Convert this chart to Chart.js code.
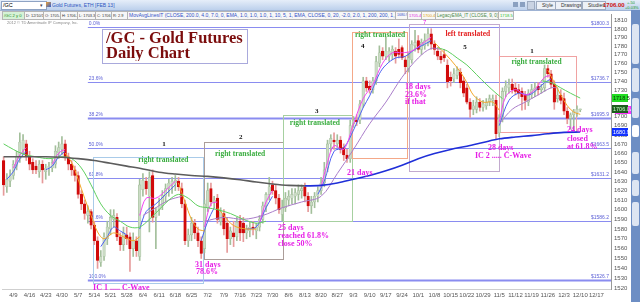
<!DOCTYPE html>
<html>
<head>
<meta charset="utf-8">
<script src="https://cdn.jsdelivr.net/npm/chart.js@4.4.0/dist/chart.umd.min.js"></script>
<style>
  body { margin: 0; width: 640px; height: 302px; overflow: hidden; position: relative; background: #fff; font-family: "Liberation Sans", Arial, sans-serif; }
  #chart { position: absolute; left: 0; top: 0; }
  .abs { position: absolute; white-space: nowrap; overflow: hidden; }
  .row1 { left: 0; top: 0; width: 640px; height: 10px; background: linear-gradient(#e6eef9, #bcd0ec); border-bottom: 1px solid #9fb3d4; }
  .row2 { left: 0; top: 11px; width: 513px; height: 9px; background: #ededed; }
  .cell { top: 11px; height: 7px; line-height: 7px; font-size: 5px; border: 1px solid #b5b5b5; background: #f7f7f7; color: #333; padding-left: 1px; }
  .btn { top: 1px; height: 7px; line-height: 7px; font-size: 5px; border: 1px solid #9eabc0; background: #edf1f7; color: #333; padding-left: 5px; }
  .tab { left: 632px; width: 7px; background: #dde5f2; border-radius: 2px; }
  #title { left: 102px; top: 29px; width: 144px; height: 33px; border: 1px solid #a9a9dc; background: #fff; }
  .tl { font-family: "Liberation Serif", serif; font-weight: bold; font-size: 16.5px; line-height: 16px; color: #7b0c0c; }
</style>
</head>
<body>
<canvas id="chart" width="640" height="302"></canvas>

<div class="abs row1"></div>
<div class="abs" style="left:1px;top:1px;width:43px;height:7px;line-height:7px;font-size:5.5px;background:#fff;border:1px solid #8ea3c4;padding-left:1px;">/GC</div>
<div class="abs" style="left:40px;top:2px;font-size:5px;color:#445;">&#9662;</div>
<div class="abs" style="left:46px;top:2px;width:5px;height:5px;background:linear-gradient(135deg,#f0a030,#3060d0);"></div>
<div class="abs" style="left:52px;top:1px;font-size:5px;line-height:8px;color:#2b55c0;">Gold Futures, ETH [FEB 13]</div>
<div class="abs" style="left:513px;top:2px;width:5px;height:5px;background:#8aa0c0;"></div>
<div class="abs" style="left:520px;top:2px;width:5px;height:5px;background:#8aa0c0;"></div>
<div class="abs" style="left:527px;top:1px;width:6px;height:7px;background:#c9d3e3;border:1px solid #9eabc0;"></div>
<div class="abs btn" style="left:536px;width:13px;">Style</div>
<div class="abs btn" style="left:555px;width:20px;">Drawings</div>
<div class="abs btn" style="left:582px;width:17px;">Studies</div>
<div class="abs" style="left:603px;top:1px;font-size:6px;line-height:8px;font-weight:bold;color:#d01010;">1706.00</div>
<div class="abs" style="left:627px;top:0px;font-size:4px;line-height:5px;color:#1a9a1a;">+.50</div>
<div class="abs" style="left:625px;top:5px;font-size:4px;line-height:5px;color:#1a9a1a;">+0.03%</div>

<div class="abs row2"></div>
<div id="cells"></div>
<div class="abs" style="left:7px;top:20px;font-size:4px;line-height:5px;color:#8a8a8a;">2012 &copy; TD Ameritrade IP Company, Inc.</div>

<div class="abs" style="left:631px;top:10px;width:9px;height:292px;background:#6d8ec4;"></div>
<div class="abs tab" style="top:24px;height:40px;"></div>
<div class="abs tab" style="top:68px;height:24px;"></div>
<div class="abs tab" style="top:98px;height:20px;"></div>
<div class="abs tab" style="top:125px;height:12px;background:#fff;"></div>
<div class="abs tab" style="top:152px;height:22px;"></div>
<div class="abs tab" style="top:180px;height:16px;"></div>
<div class="abs tab" style="top:202px;height:24px;"></div>

<div id="title" class="abs"></div>
<div class="abs tl" style="left:106px;top:30px;">/GC - Gold Futures</div>
<div class="abs tl" style="left:106px;top:45px;">Daily Chart</div>

<script>
/*=================================
      data
=================================*/
const weekLabels = ['4/9','4/16','4/23','4/30','5/7','5/14','5/21','5/28','6/4','6/11','6/18','6/25',
  '7/2','7/9','7/16','7/23','7/30','8/6','8/13','8/20','8/27','9/3','9/10','9/17','9/24','10/1',
  '10/8','10/15','10/22','10/29','11/5','11/12','11/19','11/26','12/3','12/10','12/17'];

const priceTicks = [1520,1530,1540,1550,1560,1570,1580,1590,1600,1610,1620,1630,1640,1650,1660,
  1670,1680,1690,1700,1710,1720,1730,1740,1750,1760,1770,1780,1790,1800,1810];

// daily candles, first bar is 4/4/12
const opens = [
  1650,1622,1628,1634,1644,1652,1662,1668,1654,1648, 1644,1638,1646,1638,1642,1642,1646,1658,1662,1668,
  1654,1646,1640,1634,1614,1604,1592,1596,1582,1566, 1544,1550,1568,1578,1588,1590,1570,1562,1572,1570,
  1558,1566,1550,1619,1628,1612,1634,1590,1598,1602, 1612,1620,1624,1626,1628,1620,1604,1566,1572,1584,
  1574,1566,1558,1600,1620,1606,1610,1586,1594,1584, 1568,1574,1570,1586,1584,1574,1576,1580,1576,1580,
  1588,1602,1614,1624,1618,1610,1593,1600,1608,1610, 1612,1614,1618,1622,1612,1602,1606,1612,1618,1626,
  1642,1668,1672,1668,1672,1664,1656,1652,1690,1694, 1694,1712,1738,1732,1728,1738,1758,1772,1766,1766,
  1768,1772,1774,1776,1762,1752,1762,1778,1784,1774, 1778,1782,1792,1780,1772,1766,1768,1756,1742,1740,
  1744,1748,1738,1730,1714,1706,1706,1714,1708,1710, 1714,1716,1716,1680,1696,1726,1730,1734,1730,1728,
  1726,1722,1714,1722,1726,1732,1728,1730,1752,1746, 1734,1718,1722,1718,1704,1696,1700,1702,1705.4];
const highs = [
  1654,1636,1640,1650,1660,1680,1678,1672,1660,1652, 1650,1650,1650,1646,1648,1652,1666,1670,1676,1672,
  1658,1650,1644,1638,1618,1608,1602,1598,1586,1570, 1556,1574,1586,1598,1598,1594,1574,1580,1580,1574,
  1574,1570,1630,1636,1632,1638,1640,1600,1610,1618, 1625,1630,1632,1634,1632,1626,1608,1578,1590,1588,
  1580,1570,1608,1626,1626,1612,1614,1600,1598,1590, 1580,1586,1590,1592,1590,1582,1586,1586,1584,1592,
  1606,1616,1632,1628,1624,1614,1608,1616,1618,1620, 1620,1624,1624,1626,1616,1612,1616,1622,1632,1648,
  1672,1678,1680,1678,1676,1668,1662,1694,1698,1700, 1716,1742,1742,1738,1742,1766,1778,1776,1788,1776,
  1778,1776,1786,1778,1766,1770,1784,1796,1790,1786, 1792,1798,1798,1784,1776,1772,1774,1762,1748,1752,
  1754,1752,1742,1734,1718,1716,1720,1718,1716,1718, 1722,1722,1722,1700,1730,1738,1740,1740,1736,1734,
  1730,1726,1728,1734,1736,1736,1734,1756,1756,1750, 1738,1730,1728,1724,1708,1702,1706,1710,1706.2];
const lows = [
  1613,1616,1622,1630,1640,1648,1656,1650,1640,1636, 1636,1632,1626,1630,1634,1638,1642,1652,1656,1650,
  1640,1634,1628,1610,1598,1588,1584,1578,1562,1538, 1540,1546,1562,1572,1580,1566,1556,1556,1562,1535,
  1550,1550,1546,1612,1614,1575,1585,1558,1592,1598, 1606,1612,1615,1618,1618,1600,1562,1560,1566,1568,
  1560,1548,1554,1596,1602,1600,1584,1582,1572,1554, 1562,1560,1566,1566,1565,1568,1570,1572,1568,1576,
  1584,1596,1608,1614,1604,1594,1586,1596,1602,1604, 1604,1608,1610,1606,1596,1594,1600,1606,1614,1622,
  1638,1660,1662,1664,1658,1650,1648,1648,1686,1688, 1690,1708,1726,1724,1724,1734,1754,1762,1762,1760,
  1762,1758,1764,1762,1746,1748,1758,1772,1770,1768, 1774,1778,1774,1768,1762,1758,1760,1730,1732,1736,
  1740,1730,1720,1712,1697,1700,1702,1704,1704,1706, 1710,1710,1673,1676,1692,1720,1724,1724,1722,1718,
  1705,1706,1710,1718,1720,1722,1724,1726,1742,1730, 1706,1714,1712,1700,1690,1684,1682,1698,1703.3];
const closes = [
  1624,1630,1634,1646,1654,1670,1672,1654,1646,1640, 1640,1646,1640,1642,1644,1648,1660,1664,1668,1654,
  1646,1640,1634,1614,1604,1594,1596,1582,1566,1546, 1550,1570,1580,1590,1592,1570,1562,1574,1568,1558,
  1566,1556,1624,1629,1620,1632,1590,1596,1602,1613, 1620,1626,1628,1629,1622,1604,1566,1572,1584,1574,
  1566,1553,1604,1618,1606,1608,1588,1596,1578,1568, 1576,1570,1585,1574,1574,1578,1580,1578,1580,1588,
  1602,1614,1622,1618,1610,1598,1600,1610,1612,1614, 1616,1618,1620,1612,1602,1606,1612,1618,1626,1640,
  1668,1674,1670,1672,1662,1656,1652,1688,1694,1692, 1712,1738,1730,1728,1738,1760,1770,1766,1772,1772,
  1774,1766,1768,1764,1754,1764,1780,1782,1774,1782, 1784,1792,1780,1774,1766,1762,1764,1737,1738,1746,
  1750,1736,1724,1714,1706,1710,1714,1708,1712,1714, 1718,1718,1679,1696,1726,1732,1734,1728,1726,1724,
  1720,1716,1724,1728,1730,1728,1730,1752,1746,1734, 1714,1722,1716,1704,1696,1700,1704,1706,1706];

// 200 day average, [bar, price]
const ma200 = [[0,1654],[3,1654],[8,1654],[13,1654],[18,1653.5],[23,1652],[28,1650],[33,1647],[38,1644],
  [43,1641],[48,1637.5],[53,1635.5],[58,1634],[63,1633],[68,1631.5],[73,1629.5],[78,1627],[83,1625],
  [88,1623.5],[93,1623],[98,1623.5],[103,1626],[108,1630],[113,1634],[118,1639],[123,1645],[128,1652],
  [133,1657.5],[138,1662],[143,1665.5],[148,1669.5],[153,1673.5],[158,1675.5],[163,1677],[168,1679],
  [173,1680.5],[178,1680.9]];

// short averages, only the stretches the study paints
const emaGreen = [
  [[0,1668],[3,1662],[6,1657],[10,1654],[14,1652],[18,1654],[21,1652],[24,1642],[27,1624],[30,1604],[33,1592],
   [36,1586],[39,1580],[42,1580],[45,1588],[48,1598],[51,1608],[54,1614],[57,1610],[60,1602],[63,1600],
   [66,1598],[70,1594],[74,1588],[78,1584],[81,1586]],
  [[134,1776],[137,1772],[140,1764],[143,1756],[146,1745],[149,1734],[152,1724],[154,1718]],
  [[166,1738],[169,1736],[172,1730],[175,1724],[178,1718.5]]];
const emaOrange = [
  [[19,1658],[21,1648],[23,1630],[25,1610],[27,1592],[29,1575],[31,1568],[34,1574],[37,1570],[40,1566],[42,1570]],
  [[54,1626],[56,1606],[58,1588],[60,1578],[62,1576]],
  [[66,1600],[68,1592],[70,1584],[72,1580],[75,1578],[78,1578]],
  [[133,1782],[135,1774],[138,1762],[141,1748],[143,1736],[145,1722],[148,1714],[151,1714],[153,1705]],
  [[168,1750],[170,1736],[172,1722],[174,1710],[176,1703],[178,1700.4]]];
const emaBlue = [
  [[1,1630],[3,1638],[5,1652],[7,1660]],
  [[13,1640],[15,1644],[17,1654],[19,1660]],
  [[30,1560],[32,1570],[34,1580],[36,1576],[38,1572]],
  [[42,1578],[44,1596],[47,1604],[50,1614],[53,1624]],
  [[61,1566],[63,1586],[65,1600]],
  [[75,1578],[78,1580],[81,1600],[83,1612]],
  [[97,1614],[99,1628],[102,1660],[105,1664],[108,1683],[111,1708],[113,1721],[116,1746],[118,1756],
   [121,1764],[124,1766],[127,1774],[130,1780],[132,1784]],
  [[153,1688],[156,1716],[159,1724],[162,1722],[164,1726],[167,1736],[169,1740]]];
const emaMagenta = [
  [[3,1642],[5,1656],[7,1664]],
  [[15,1646],[17,1658],[19,1662]],
  [[42,1592],[44,1610],[47,1610],[50,1618],[53,1628]],
  [[62,1580],[64,1604],[66,1606]],
  [[79,1584],[81,1606],[83,1618]],
  [[98,1622],[100,1648],[102,1666],[105,1662],[108,1690],[111,1718],[114,1734],[117,1758],[120,1770],
   [123,1770],[126,1772],[129,1780],[132,1788]],
  [[153,1692],[155,1720],[158,1728],[161,1722],[164,1728],[167,1742],[169,1744]]];
const emaPurple = [
  [[43,1592],[47,1600],[51,1608],[55,1612]],
  [[62,1586],[68,1590],[74,1588],[80,1592],[86,1600],[92,1606],[98,1612],[103,1636],[108,1662],[113,1690],
   [118,1714],[123,1742],[128,1764],[132,1775],[135,1774]],
  [[153,1690],[157,1706],[161,1714],[165,1722],[169,1730],[171,1730]]];

// fibonacci retracement from the May low to the October high
const fibLevels = [1800.3, 1736.7, 1695.9, 1663.5, 1631.2, 1586.2, 1526.7];
const fibNames = ['0.0%', '23.6%', '38.2%', '50.0%', '61.8%', '78.6%', '100.0%'];

/*=================================
      drawings on the chart
=================================*/
const fibStart = 26;
const fibWidth = [1.2, 1.2, 2, 1.2, 1.2, 1.2, 2];

// cycle boxes: bar from / to, price low / high
const cycleBoxes = [
  { x0: 27.6, x1: 61.5, lo: 1523.4, hi: 1653.8, color: '#a9cbe9' },
  { x0: 61.8, x1: 86.2, lo: 1547.4, hi: 1670.0, color: '#ab9d99' },
  { x0: 86.2, x1: 107.5, lo: 1586.2, hi: 1699.6, color: '#a6d0a0' },
  { x0: 107.5, x1: 124.5, lo: 1652.7, hi: 1794.1, color: '#f4a888' },
  { x0: 125.1, x1: 152.9, lo: 1638.7, hi: 1803.5, color: '#c2aace' },
  { x0: 152.9, x1: 176.7, lo: 1680.9, hi: 1766.3, color: '#f0a2a2' },
];

const GREEN = '#3aad3f', RED = '#e42222', MAG = '#e61ee6';
const fNum = 'bold 7px "Liberation Serif"';
const fTr = 'bold 7.5px "Liberation Serif"';
const fNote = 'bold 8px "Liberation Serif"';
const notes = [
  { t: '1', x: 49.5, y: 1667.8, c: '#111', f: fNum, a: 'center' },
  { t: 'right translated', x: 49.3, y: 1650.5, c: GREEN, f: fTr, a: 'center' },
  { t: 'IC 1 ..... C-Wave', x: 27.6, y: 1518.8, c: MAG, f: fNote, a: 'left' },
  { t: '2', x: 73.2, y: 1675.8, c: '#111', f: fNum, a: 'center' },
  { t: 'right translated', x: 73, y: 1657, c: GREEN, f: fTr, a: 'center' },
  { t: '3', x: 96.7, y: 1704.4, c: '#111', f: fNum, a: 'center' },
  { t: 'right translated', x: 96.1, y: 1690.8, c: GREEN, f: fTr, a: 'center' },
  { t: '4', x: 110.9, y: 1777.8, c: '#111', f: fNum, a: 'center' },
  { t: 'right translated', x: 116.2, y: 1790, c: GREEN, f: fTr, a: 'center' },
  { t: '5', x: 142.4, y: 1777, c: '#111', f: fNum, a: 'center' },
  { t: 'left translated', x: 143.3, y: 1791.2, c: RED, f: fTr, a: 'center' },
  { t: '1', x: 163.1, y: 1772.4, c: '#111', f: fNum, a: 'center' },
  { t: 'right translated', x: 164.5, y: 1759.4, c: GREEN, f: fTr, a: 'center' },
  { t: '31 days', x: 59.1, y: 1541.9, c: MAG, f: fNote, a: 'left' },
  { t: '78.6%', x: 59.4, y: 1534.4, c: MAG, f: fNote, a: 'left' },
  { t: '25 days', x: 84.7, y: 1579, c: MAG, f: fNote, a: 'left' },
  { t: 'reached 61.8%', x: 84.7, y: 1570.8, c: MAG, f: fNote, a: 'left' },
  { t: 'close 50%', x: 84.7, y: 1562.6, c: MAG, f: fNote, a: 'left' },
  { t: '21 days', x: 106, y: 1636.6, c: MAG, f: fNote, a: 'left' },
  { t: '18 days', x: 123.9, y: 1730.9, c: MAG, f: fNote, a: 'left' },
  { t: '23.6%', x: 123.9, y: 1722.5, c: MAG, f: fNote, a: 'left' },
  { t: 'if that', x: 123.9, y: 1714.1, c: MAG, f: fNote, a: 'left' },
  { t: '28 days', x: 149.5, y: 1663.5, c: MAG, f: fNote, a: 'left' },
  { t: 'IC 2 ..... C-Wave', x: 145.5, y: 1655.4, c: MAG, f: fNote, a: 'left' },
  { t: '24 days', x: 173.9, y: 1683.1, c: MAG, f: fNote, a: 'left' },
  { t: 'closed', x: 173.9, y: 1673.8, c: MAG, f: fNote, a: 'left' },
  { t: 'at 61.8%', x: 173.9, y: 1664.6, c: MAG, f: fNote, a: 'left' },
  { t: '7', x: 130, y: 1805, c: MAG, f: '6px "Liberation Sans"', a: 'center' },
];

// price flags on the axis
const flags = [
  { v: 1718.5, text: '1718.5', bg: '#22dd22', fg: '#063806', dx: 0 },
  { v: 1705.4, text: '1705.4', bg: '#ff33ff', fg: '#fff', dx: 3 },
  { v: 1706.0, text: '1706.0', bg: '#1d5e1d', fg: '#c8ffc8', dx: 0 },
  { v: 1680.9, text: '1680.9', bg: '#1232ff', fg: '#fff', dx: 0 },
];

/*=================================
      header cells
=================================*/
const headerCells = [
  ['/GC 2 y 0', 2, 20, 4.2, '#1f8a1f', '#d6f2d6'],
  ['D: 12/10/12', 24, 17, 3.9, '#333'],
  ['O: 1705.4', 43, 15, 3.9, '#333'],
  ['H: 1706.2', 60, 15, 3.9, '#333'],
  ['L: 1703.3', 77, 16, 3.9, '#333'],
  ['C: 1706', 95, 14, 3.9, '#333'],
  ['R: 2.9', 111, 14, 3.9, '#333'],
  ['MovAvgLinesIT (CLOSE, 200.0, 4.0, 7.0, 0, EMA, 1.0, 1.0, 1.0, 1, 10, 5, 1, EMA, CLOSE, 0, 20, -2.0, 2.0, 1, 200, 200, 1, 1)', 127, 266, 5, '#3050c8'],
  ['1680.9', 395, 10, 3.6, '#3050c8'],
  ['1705.4', 407, 12, 4, '#e020e0'],
  ['1700.4', 421, 12, 4, '#e0a000'],
  ['LegacyEMA_IT (CLOSE, 9, 0)', 435, 61, 4.6, '#4a8a4a'],
  ['1718.5', 498, 13, 4.2, '#2fbf2f'],
];
const cellBox = document.getElementById('cells');
headerCells.forEach((h) => {
  const d = document.createElement('div');
  d.className = 'abs cell';
  d.style.left = h[1] + 'px';
  d.style.width = h[2] + 'px';
  d.style.fontSize = h[3] + 'px';
  d.style.color = h[4];
  if (h[5]) d.style.background = h[5];
  d.textContent = h[0];
  cellBox.appendChild(d);
});

/*=================================
      datasets
=================================*/
const bars = closes.map((c, i) => i);
const isUp = closes.map((c, i) => c >= opens[i]);

function toPoints(segments) {
  const out = [];
  segments.forEach((s, k) => {
    if (k) {
      const prev = segments[k - 1];
      out.push({ x: (prev[prev.length - 1][0] + s[0][0]) / 2, y: null });
    }
    s.forEach((p) => out.push({ x: p[0], y: p[1] }));
  });
  return out;
}

function emaLine(segments, color) {
  return {
    type: 'line',
    data: toPoints(segments),
    borderColor: color,
    borderWidth: 1,
    pointRadius: 0,
    tension: 0.35,
    spanGaps: false,
    order: 1,
  };
}

const drawings = {
  id: 'drawings',
  beforeDatasetsDraw(chart) {
    const { ctx, chartArea: a, scales: { x, y } } = chart;
    ctx.save();
    ctx.font = '5px "Liberation Sans"';
    ctx.textBaseline = 'bottom';
    fibLevels.forEach((lv, i) => {
      const py = Math.round(y.getPixelForValue(lv)) + 0.5;
      const px0 = x.getPixelForValue(fibStart);
      ctx.strokeStyle = '#8a8cf0';
      ctx.lineWidth = fibWidth[i];
      ctx.beginPath();
      ctx.moveTo(px0, py);
      ctx.lineTo(a.right, py);
      ctx.stroke();
      ctx.fillStyle = '#5b5fd6';
      ctx.textAlign = 'left';
      ctx.fillText(fibNames[i], px0 + 1, py - 1.5);
      ctx.textAlign = 'right';
      ctx.fillText('$' + lv.toFixed(1), a.right - 2, py - 1.5);
    });
    cycleBoxes.forEach((b) => {
      const l = Math.round(x.getPixelForValue(b.x0)) + 0.5;
      const r = Math.round(x.getPixelForValue(b.x1)) + 0.5;
      const t = Math.round(y.getPixelForValue(b.hi)) + 0.5;
      const bt = Math.round(y.getPixelForValue(b.lo)) + 0.5;
      ctx.strokeStyle = b.color;
      ctx.lineWidth = 1;
      ctx.strokeRect(l, t, r - l, bt - t);
    });
    ctx.restore();
  },
  afterDatasetsDraw(chart) {
    const { ctx, scales: { x, y } } = chart;
    ctx.save();
    ctx.textBaseline = 'middle';
    notes.forEach((n) => {
      ctx.font = n.f;
      ctx.fillStyle = n.c;
      ctx.textAlign = n.a;
      ctx.fillText(n.t, x.getPixelForValue(n.x), y.getPixelForValue(n.y));
    });
    ctx.restore();
  },
  afterDraw(chart) {
    const { ctx, chartArea: a, scales: { y } } = chart;
    ctx.save();
    ctx.font = '5.5px "Liberation Sans"';
    ctx.textBaseline = 'middle';
    ctx.textAlign = 'left';
    flags.forEach((f) => {
      const py = Math.round(y.getPixelForValue(f.v));
      ctx.fillStyle = f.bg;
      ctx.fillRect(a.right + 1 + f.dx, py - 4, 16, 8);
      ctx.fillStyle = f.fg;
      ctx.fillText(f.text, a.right + 2 + f.dx, py + 0.5);
    });
    ctx.restore();
  },
};

new Chart('chart', {
  type: 'bar',
  data: {
    datasets: [
      {
        type: 'bar',
        data: bars.map((i) => ({ x: i, y: [lows[i], highs[i]] })),
        backgroundColor: bars.map((i) => (isUp[i] ? '#a3bf9b' : '#e69a9a')),
        barThickness: 1,
        grouped: false,
        order: 4,
      },
      {
        type: 'bar',
        data: bars.map((i) => ({ x: i, y: [Math.min(opens[i], closes[i]), Math.max(opens[i], closes[i])] })),
        backgroundColor: bars.map((i) => (isUp[i] ? '#cbdbc5' : '#d10a0a')),
        borderColor: bars.map((i) => (isUp[i] ? '#a7c09f' : '#d10a0a')),
        borderWidth: 0.6,
        borderSkipped: false,
        barThickness: 2.6,
        minBarLength: 1,
        grouped: false,
        order: 3,
      },
      emaLine(emaGreen, '#5fcf5f'),
      emaLine(emaOrange, '#f3a628'),
      emaLine(emaPurple, '#a97cc9'),
      emaLine(emaMagenta, '#f245f2'),
      emaLine(emaBlue, '#4d62f2'),
      {
        type: 'line',
        data: ma200.map((p) => ({ x: p[0], y: p[1] })),
        borderColor: '#5c5c5c',
        segment: {
          borderColor: (c) => (c.p1.parsed.y > c.p0.parsed.y ? '#1f2fd8' : '#5c5c5c'),
        },
        borderWidth: 1.6,
        pointRadius: 0,
        cubicInterpolationMode: 'monotone',
        order: 0,
      },
    ],
  },
  options: {
    responsive: false,
    devicePixelRatio: 1,
    animation: false,
    events: [],
    layout: { padding: { left: 2, top: 14, right: 0, bottom: 0 } },
    plugins: { legend: { display: false }, tooltip: { enabled: false } },
    scales: {
      x: {
        type: 'linear',
        min: -0.5,
        max: 187.5,
        offset: false,
        bounds: 'data',
        afterBuildTicks: (s) => {
          s.ticks = weekLabels.map((l, k) => ({ value: 3 + 5 * k }));
        },
        afterFit: (s) => {
          s.height = 13;
        },
        grid: { display: false, drawTicks: false },
        border: { display: true, color: '#cfcfcf' },
        ticks: {
          autoSkip: false,
          maxRotation: 0,
          padding: 3,
          color: '#555',
          font: { size: 6, family: 'Liberation Sans' },
          callback: (v, i) => weekLabels[i],
        },
      },
      y: {
        type: 'logarithmic',
        position: 'right',
        min: 1517.5,
        max: 1815.3,
        bounds: 'data',
        afterBuildTicks: (s) => {
          s.ticks = priceTicks.map((v) => ({ value: v }));
        },
        afterFit: (s) => {
          s.width = 29;
        },
        grid: { display: false, drawTicks: false },
        border: { display: true, color: '#9a9a9a' },
        ticks: {
          autoSkip: false,
          padding: 3,
          labelOffset: 2,
          color: '#555',
          font: { size: 6, family: 'Liberation Sans' },
          callback: (v) => String(v),
        },
      },
    },
  },
  plugins: [drawings],
});
</script>
</body>
</html>
